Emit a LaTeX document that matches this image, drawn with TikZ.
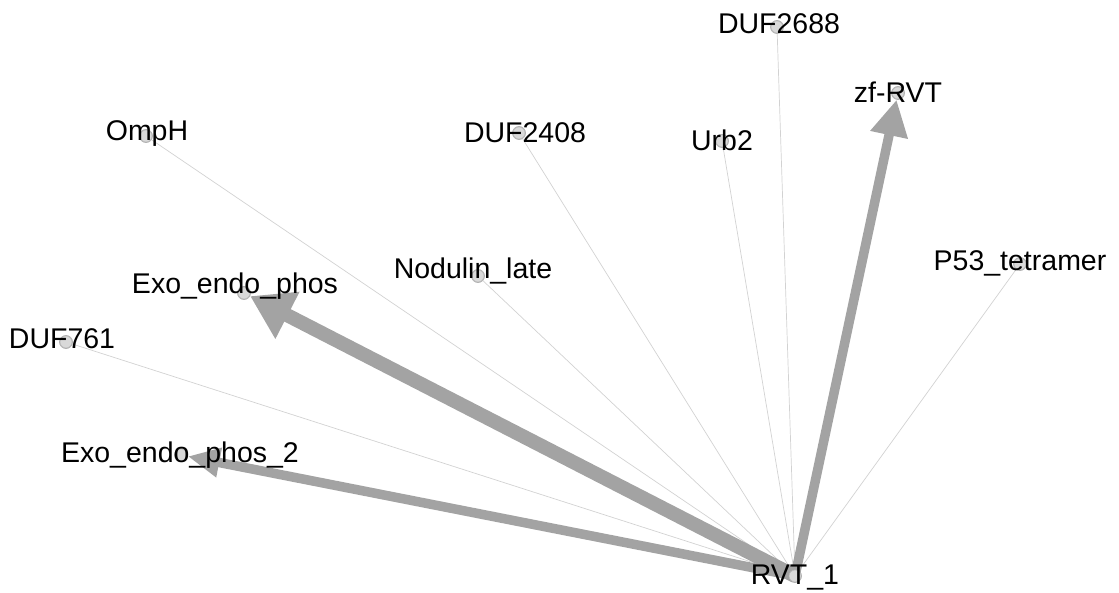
\documentclass[tikz,border=0pt]{standalone}
\usepackage{fontspec}
\setmainfont{Liberation Sans}
\usetikzlibrary{arrows.meta}
\definecolor{thick}{HTML}{A3A3A3}
\definecolor{thin}{HTML}{D2D2D2}
\tikzset{
  nd/.style={circle,minimum size=13pt,inner sep=0pt,fill=gray!35,draw=gray!60,line width=0.8pt},
  lbl/.style={anchor=base,inner sep=0pt,font=\fontsize{28.5}{31}\selectfont},
  weak/.style={draw=thin,line width=0.7pt},
  strong/.style={draw=thick,line cap=butt}
}
\begin{document}
\begin{tikzpicture}[x=1pt,y=-1pt]
\useasboundingbox (0,0) rectangle (1119,593);
% nodes (circles)
\node[nd] (rvt) at (795,576) {};
\node[nd] (duf2688) at (777,27) {};
\node[nd] (zf) at (898,93) {};
\node[nd] (omph) at (146,136) {};
\node[nd] (duf2408) at (519,133) {};
\node[nd] (urb2) at (722,141) {};
\node[nd] (nod) at (478,276) {};
\node[nd] (p53) at (1020,264) {};
\node[nd] (exo) at (244,293) {};
\node[nd] (duf761) at (66,342) {};
\node[nd] (exo2) at (181,455) {};
% edges
\draw[weak] (rvt) -- (duf2688);
\draw[weak] (rvt) -- (omph);
\draw[weak] (rvt) -- (duf2408);
\draw[weak] (rvt) -- (urb2);
\draw[weak] (rvt) -- (nod);
\draw[weak] (rvt) -- (p53);
\draw[weak] (rvt) -- (duf761);
\draw[strong,line width=14pt,-{Triangle[length=42pt,width=50pt]}] (rvt.center) -- (exo);
\draw[strong,line width=9.5pt,-{Triangle[length=36pt,width=36pt]}] (rvt.center) -- (zf);
\draw[strong,line width=9.5pt,-{Triangle[length=32pt,width=28pt]}] (rvt.center) -- (exo2);
% redraw circles over edges
\foreach \n in {rvt,duf2688,zf,omph,duf2408,urb2,nod,p53,exo,duf761,exo2}
  \filldraw[fill=gray!30,draw=gray!55,line width=0.6pt] (\n.center) circle (6pt);
% labels
\node[lbl] (l-rvt) at (795,584) {RVT\_1};
\node[lbl] (l-duf2688) at (779,34) {DUF2688};
\node[lbl] (l-zf) at (898,103) {zf-RVT};
\node[lbl] (l-omph) at (147,141) {OmpH};
\node[lbl] (l-duf2408) at (525,143) {DUF2408};
\node[lbl] (l-urb2) at (722,151) {Urb2};
\node[lbl] (l-nod) at (473,279) {Nodulin\_late};
\node[lbl] (l-p53) at (1020,271) {P53\_tetramer};
\node[lbl] (l-exo) at (235,294) {Exo\_endo\_phos};
\node[lbl] (l-duf761) at (62,349) {DUF761};
\node[lbl] (l-exo2) at (180,462) {Exo\_endo\_phos\_2};
\end{tikzpicture}
\end{document}
